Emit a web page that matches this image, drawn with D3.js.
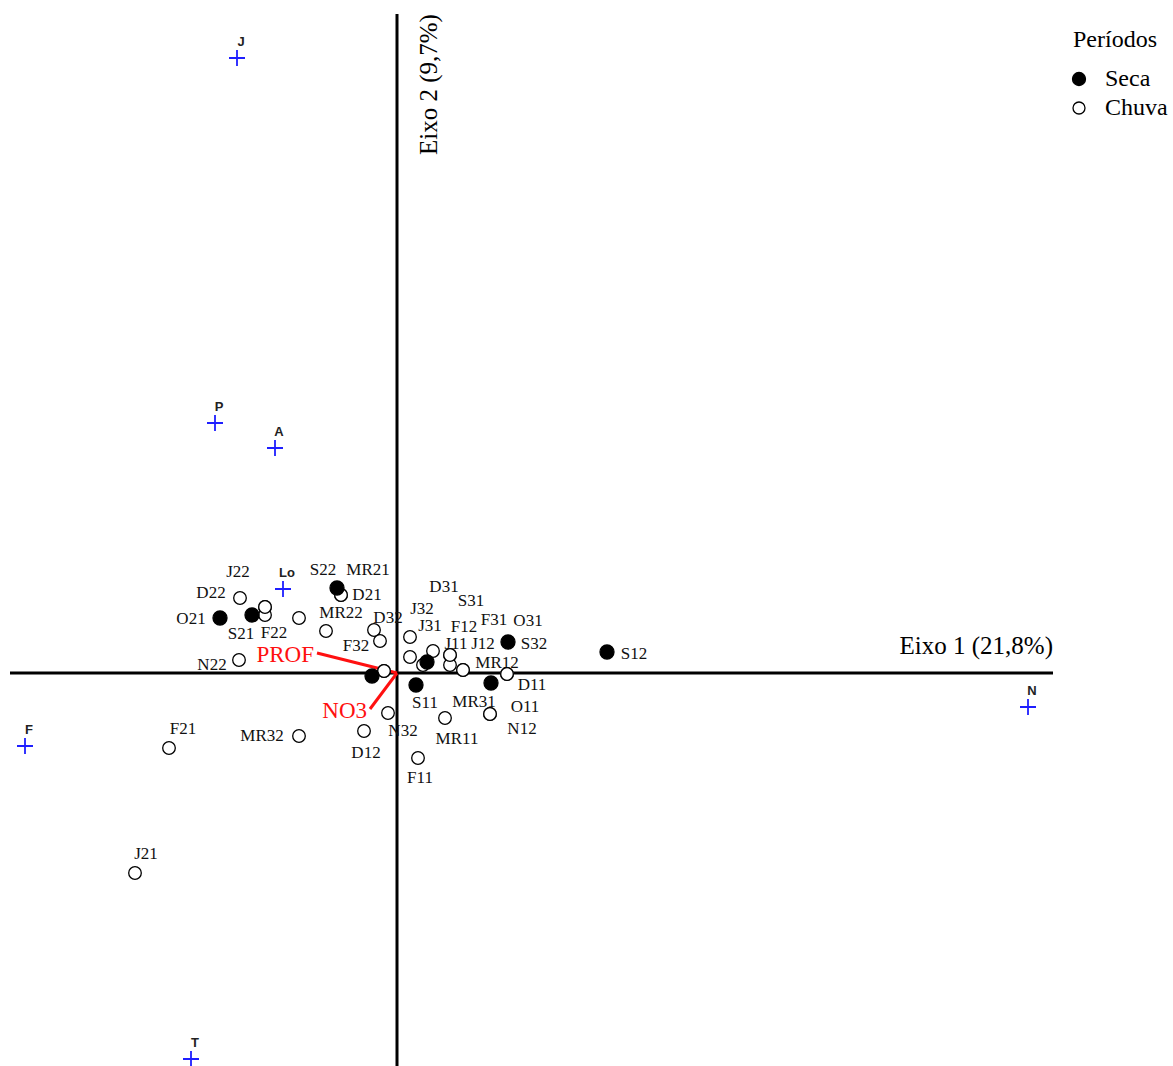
<!DOCTYPE html>
<html>
<head>
<meta charset="utf-8">
<script src="https://cdn.jsdelivr.net/npm/d3@7"></script>
<style>
  body { margin: 0; background: #fff; }
</style>
</head>
<body>
<div id="chart-biplot"></div>
<script>
// ═══════════════════════════════════════════════
// Biplot — samples, species and environmental vectors
// ═══════════════════════════════════════════════

// ── Data ───────────────────────────────────────
const sampleNames  = ["O21","S21","S22","O32","S31","S32","S12","S11","MR31",
  "D22","J22","F22","O22","D21","MR21","MR22","D32","F32","N22","N31",
  "J32","J31","F12","D31","J11","J12","MR12","F31","O31","D11","O11","N12",
  "N32","MR32","D12","MR11","F11","F21","J21","O12","N11","N21"];
const sampleAxis1  = [-1.77,-1.45,-0.60,-0.25,0.30,1.11,2.10,0.19,0.94,
  -1.57,-1.32,-1.32,-0.98,-0.56,-0.56,-0.71,-0.23,-0.17,-1.58,-0.13,
  0.13,0.13,0.36,0.26,0.53,0.53,0.66,0.66,1.10,1.10,0.93,0.93,
  -0.09,-0.98,-0.33,0.48,0.21,-2.28,-2.62,-0.13,0.53,-1.32];
const sampleAxis2  = [0.55,0.58,0.85,-0.03,0.11,0.31,0.21,-0.12,-0.10,
  0.75,0.66,0.58,0.55,0.78,0.78,0.42,0.43,0.32,0.13,0.02,
  0.36,0.16,0.22,0.08,0.18,0.08,0.03,0.03,-0.01,-0.01,-0.41,-0.41,
  -0.40,-0.63,-0.58,-0.45,-0.85,-0.75,-2.00,0.02,0.18,0.66];
const samplePeriod = ["Seca","Seca","Seca","Seca","Seca","Seca","Seca","Seca","Seca",
  "Chuva","Chuva","Chuva","Chuva","Chuva","Chuva","Chuva","Chuva","Chuva","Chuva","Chuva",
  "Chuva","Chuva","Chuva","Chuva","Chuva","Chuva","Chuva","Chuva","Chuva","Chuva","Chuva","Chuva",
  "Chuva","Chuva","Chuva","Chuva","Chuva","Chuva","Chuva","Chuva","Chuva","Chuva"];

const speciesNames = ["J","P","A","Lo","F","T","N"];
const speciesAxis1 = [-1.60,-1.82,-1.22,-1.14,-3.72,-2.06,6.31];
const speciesAxis2 = [6.15,2.50,2.25,0.84,-0.73,-3.86,-0.34];

const envNames     = ["PROF","NO3"];
const envAxis1     = [-0.80,-0.27];
const envAxis2     = [0.20,-0.36];

const axisTitles   = ["Eixo 1 (21,8%)","Eixo 2 (9,7%)"];
const legendTitle  = "Períodos";
const periods      = ["Seca","Chuva"];

// label placement (pixel offsets from each sample, null = not labelled)
const labelOffsets = [[-29,0],[-11,18],[-14,-19],null,[44,-62],[26,1],[27,1],[9,17],[-17,18],
  [-29,-6],[-27,-36],[9,17],null,[26,-1],[27,-26],[15,-19],[14,-13],[-24,4],[-27,4],null,
  [12,-29],[20,-32],[31,-25],[21,-79],[6,-12],[33,-22],[34,-8],[31,-51],[21,-54],[25,10],[35,-8],[32,14],
  [15,17],[-37,-1],[2,21],[12,20],[2,19],[14,-20],[11,-20],null,null,null];

(function () {

  const W = 1173, H = 1066;
  const SERIF = "'Liberation Serif','Times New Roman',serif";
  const SANS  = "'Liberation Sans',Arial,sans-serif";
  const BLUE  = "#1f1fff";
  const RED   = "#ff1010";

  const samples = sampleNames.map((n, i) => ({
    name: n, a1: sampleAxis1[i], a2: sampleAxis2[i],
    period: samplePeriod[i], off: labelOffsets[i]
  }));
  const species = speciesNames.map((n, i) => ({ name: n, a1: speciesAxis1[i], a2: speciesAxis2[i] }));
  const env = envNames.map((n, i) => ({ name: n, a1: envAxis1[i], a2: envAxis2[i] }));

  const svg = d3.select("#chart-biplot").append("svg")
    .attr("width", W).attr("height", H)
    .style("background", "#fff");

  const x = d3.scaleLinear().domain([-3.87, 6.56]).range([10, 1053]);
  const y = d3.scaleLinear().domain([-3.93, 6.59]).range([1066, 14]);

  // ── Axes through origin ──────────────────────
  svg.append("line")
    .attr("x1", x.range()[0]).attr("x2", x.range()[1])
    .attr("y1", y(0)).attr("y2", y(0))
    .attr("stroke", "#000").attr("stroke-width", 3);
  svg.append("line")
    .attr("x1", x(0)).attr("x2", x(0))
    .attr("y1", y.range()[1]).attr("y2", y.range()[0])
    .attr("stroke", "#000").attr("stroke-width", 3);

  svg.append("text")
    .attr("x", x.range()[1]).attr("y", y(0) - 19)
    .attr("text-anchor", "end")
    .attr("font-family", SERIF).attr("font-size", "25px")
    .text(axisTitles[0]);
  svg.append("text")
    .attr("transform", `translate(${x(0) + 40},155) rotate(-90)`)
    .attr("font-family", SERIF).attr("font-size", "25px")
    .text(axisTitles[1]);

  // ── Environmental vectors ────────────────────
  svg.selectAll(".env-line").data(env).join("line")
    .attr("class", "env-line")
    .attr("x1", x(0)).attr("y1", y(0))
    .attr("x2", d => x(d.a1)).attr("y2", d => y(d.a2))
    .attr("stroke", RED).attr("stroke-width", 3);
  svg.selectAll(".env-label").data(env).join("text")
    .attr("class", "env-label")
    .attr("x", d => x(d.a1) - 3).attr("y", d => y(d.a2) + 9)
    .attr("text-anchor", "end")
    .attr("font-family", SERIF).attr("font-size", "23px")
    .attr("fill", RED)
    .text(d => d.name);

  // ── Sample labels ────────────────────────────
  svg.selectAll(".sample-label").data(samples.filter(d => d.off)).join("text")
    .attr("class", "sample-label")
    .attr("x", d => x(d.a1) + d.off[0])
    .attr("y", d => y(d.a2) + d.off[1])
    .attr("dy", "0.35em").attr("text-anchor", "middle")
    .attr("font-family", SERIF).attr("font-size", "17px")
    .attr("fill", "#111")
    .text(d => d.name);

  // ── Sample points ────────────────────────────
  const ordered = samples.filter(d => d.period === "Chuva").concat(samples.filter(d => d.period === "Seca"));
  svg.selectAll(".sample").data(ordered).join("circle")
    .attr("class", "sample")
    .attr("cx", d => x(d.a1)).attr("cy", d => y(d.a2))
    .attr("r", d => d.period === "Seca" ? 7 : 6.3)
    .attr("fill", d => d.period === "Seca" ? "#000" : "#fff")
    .attr("stroke", "#000").attr("stroke-width", 1.3);

  // ── Species ──────────────────────────────────
  const sp = svg.selectAll(".species").data(species).join("g")
    .attr("class", "species")
    .attr("transform", d => `translate(${x(d.a1)},${y(d.a2)})`);
  sp.append("path")
    .attr("d", "M-8,0H8M0,-8V8")
    .attr("stroke", BLUE).attr("stroke-width", 1.8);
  sp.append("text")
    .attr("x", 4).attr("y", -12)
    .attr("text-anchor", "middle")
    .attr("font-family", SANS).attr("font-size", "13px")
    .attr("font-weight", "bold")
    .attr("fill", "#222")
    .text(d => d.name);

  // ── Legend ───────────────────────────────────
  const legend = svg.append("g").attr("transform", "translate(1073,0)");
  legend.append("text")
    .attr("x", 0).attr("y", 47)
    .attr("font-family", SERIF).attr("font-size", "24px")
    .text(legendTitle);
  const items = legend.selectAll(".legend-item").data(periods).join("g")
    .attr("class", "legend-item")
    .attr("transform", (d, i) => `translate(0,${79 + i * 29})`);
  items.append("circle")
    .attr("cx", 6).attr("cy", 0)
    .attr("r", d => d === "Seca" ? 6.5 : 6)
    .attr("fill", d => d === "Seca" ? "#000" : "#fff")
    .attr("stroke", "#000").attr("stroke-width", 1.3);
  items.append("text")
    .attr("x", 32).attr("y", 7)
    .attr("font-family", SERIF).attr("font-size", "24px")
    .text(d => d);

})();
</script>
</body>
</html>
